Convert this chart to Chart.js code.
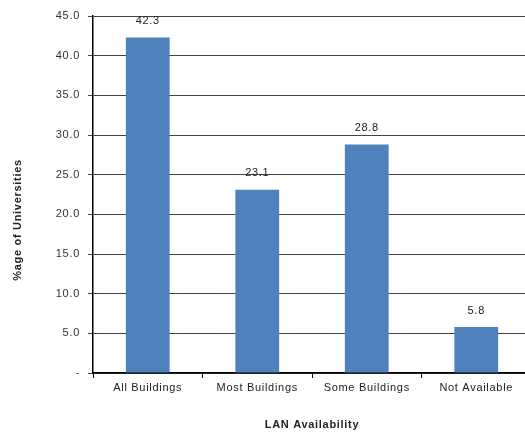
<!DOCTYPE html>
<html lang="en">
<head>
    <meta charset="UTF-8">
    <script src="https://cdn.jsdelivr.net/npm/chart.js"></script>
    <title>LAN Availability</title>
    <style>
        body { margin: 0; background: #fff; overflow: hidden; }
        #wrap { width: 531px; height: 432px; }
    </style>
</head>
<body>
    <div id="wrap">
        <canvas id="lan"></canvas>
    </div>
    <script>
        const categories = ['All Buildings', 'Most Buildings', 'Some Buildings', 'Not Available'];
        const percentages = [42.3, 23.1, 28.8, 5.8];
        const yTicks = [0, 5, 10, 15, 20, 25, 30, 35, 40, 45];

        const FONT = '"Liberation Sans", Arial, sans-serif';

        // slightly spaced-out lettering, like the old spreadsheet charts
        const spacing = {
            id: 'spacing',
            beforeUpdate(chart) { chart.ctx.letterSpacing = '0.7px'; },
            beforeDraw(chart) { chart.ctx.letterSpacing = '0.7px'; }
        };

        // writes each bar's value just above it, plus the y axis title
        const valueLabels = {
            id: 'valueLabels',
            afterDatasetsDraw(chart) {
                const ctx = chart.ctx;
                ctx.save();
                ctx.font = '11px ' + FONT;
                ctx.fillStyle = '#222';
                ctx.textAlign = 'center';
                ctx.textBaseline = 'bottom';
                chart.getDatasetMeta(0).data.forEach(function(bar, i) {
                    ctx.fillText(percentages[i].toFixed(1), bar.x, bar.y - 11);
                });
                ctx.restore();
            },
            afterDraw(chart) {
                const ctx = chart.ctx;
                ctx.save();
                ctx.translate(18, 220);
                ctx.rotate(-Math.PI / 2);
                ctx.font = 'bold 11px ' + FONT;
                ctx.fillStyle = '#222';
                ctx.textAlign = 'center';
                ctx.textBaseline = 'middle';
                ctx.fillText('%age of Universities', 0, 0);
                ctx.restore();
            }
        };

        new Chart(document.getElementById('lan'), {
            type: 'bar',
            data: {
                labels: categories,
                datasets: [{
                    data: percentages,
                    backgroundColor: '#4F81BD',
                    barPercentage: 0.4,
                    categoryPercentage: 1.0
                }]
            },
            options: {
                responsive: true,
                maintainAspectRatio: false,
                animation: false,
                layout: { padding: { top: 16, right: 0, left: 0, bottom: 0 } },
                plugins: {
                    legend: { display: false },
                    tooltip: { enabled: false }
                },
                scales: {
                    x: {
                        grid: {
                            drawOnChartArea: false,
                            drawTicks: true,
                            tickLength: 5,
                            color: '#000'
                        },
                        border: { color: '#000', width: 1.5 },
                        ticks: {
                            color: '#222',
                            font: { family: FONT, size: 11 },
                            padding: 3,
                            maxRotation: 0
                        },
                        title: {
                            display: true,
                            text: 'LAN Availability',
                            color: '#222',
                            font: { family: FONT, size: 11, weight: 'bold' },
                            padding: { top: 22, bottom: 0 }
                        },
                        afterFit(scale) { scale.height = 59; }
                    },
                    y: {
                        min: 0,
                        max: 45,
                        afterBuildTicks(scale) {
                            scale.ticks = yTicks.map(v => ({ value: v }));
                        },
                        grid: {
                            color: '#444',
                            tickLength: 5
                        },
                        border: { color: '#000', width: 1.5 },
                        ticks: {
                            color: '#333',
                            font: { family: FONT, size: 11 },
                            padding: 8,
                            callback: function(value) {
                                return value === 0 ? '-' : value.toFixed(1);
                            }
                        },
                        afterFit(scale) { scale.width = 93; }
                    }
                }
            },
            plugins: [spacing, valueLabels]
        });
    </script>
</body>
</html>
